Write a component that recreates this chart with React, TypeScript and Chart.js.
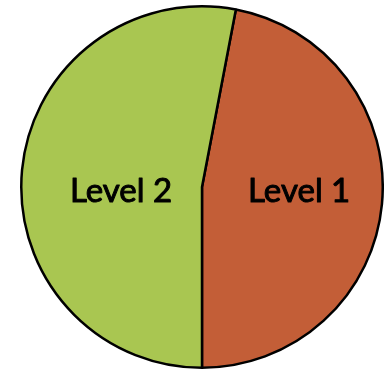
import React, { useEffect, useRef } from "react";
import { Chart, registerables, ArcElement } from "chart.js";

Chart.register(...registerables);

const categories: string[] = ["Level 1", "Level 2"];
const shares: number[] = [47, 53];
const sliceColors: string[] = ["#C35E37", "#A9C651"];
// how far out along each slice's middle the name sits, as a fraction of the radius
const labelReach: number[] = [0.54, 0.45];

const sliceNames = {
  id: "sliceNames",
  afterDatasetsDraw(chart: Chart) {
    const ctx = chart.ctx;
    const meta = chart.getDatasetMeta(0);
    ctx.save();
    ctx.font = "33px Lato";
    ctx.fillStyle = "#000";
    ctx.strokeStyle = "#000";
    ctx.lineWidth = 1;
    ctx.lineJoin = "round";
    ctx.textAlign = "center";
    ctx.textBaseline = "middle";
    meta.data.forEach((el, i) => {
      const arc = el as unknown as ArcElement;
      const { x, y, startAngle, endAngle, outerRadius } = arc.getProps(
        ["x", "y", "startAngle", "endAngle", "outerRadius"],
        true
      ) as any;
      const mid = (startAngle + endAngle) / 2;
      const r = outerRadius * labelReach[i];
      const tx = x + Math.cos(mid) * r;
      const ty = y + 4;
      ctx.fillText(categories[i], tx, ty);
      ctx.strokeText(categories[i], tx, ty);
    });
    ctx.restore();
  },
};

export default function App() {
  const ref = useRef<HTMLCanvasElement | null>(null);

  useEffect(() => {
    if (!ref.current) return;
    const total = shares.reduce((a, b) => a + b, 0);
    const chart = new Chart(ref.current, {
      type: "pie",
      data: {
        labels: categories,
        datasets: [
          {
            data: shares,
            backgroundColor: sliceColors,
            borderColor: "#000",
            borderWidth: 2.5,
          },
        ],
      },
      options: {
        animation: false,
        responsive: false,
        // first slice ends straight down at the bottom of the pie
        rotation: 180 - (shares[0] / total) * 360,
        layout: { padding: { left: 20, right: 0, top: 5, bottom: 6 } },
        plugins: {
          legend: { display: false },
          tooltip: { enabled: false },
        },
      },
      plugins: [sliceNames],
    });
    return () => chart.destroy();
  }, []);

  return (
    <div style={{ position: "absolute", left: 0, top: 0, width: 384, height: 375, background: "#fff" }}>
      <canvas ref={ref} width={384} height={375} />
    </div>
  );
}
